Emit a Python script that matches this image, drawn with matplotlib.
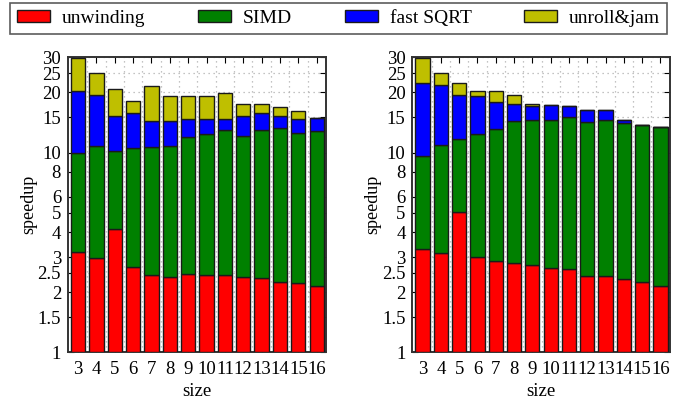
import numpy as np
import matplotlib.pyplot as plt
from matplotlib.ticker import FixedLocator, NullFormatter

plt.rcParams['font.family'] = ['Liberation Serif', 'DejaVu Serif']

sizes = list(range(3, 17))
stages = ["unwinding", "SIMD", "fast SQRT", "unroll&jam"]
colors = ["#ff0000", "#008000", "#0000ff", "#bfbf00"]

# cumulative speedup after each optimisation (top of each stacked segment)
left_unwinding = [3.18, 2.96, 4.15, 2.66, 2.44, 2.38, 2.47, 2.44, 2.44, 2.38, 2.36, 2.26, 2.22, 2.16]
left_simd = [10.0, 10.8, 10.2, 10.6, 10.7, 10.8, 12.0, 12.45, 13.0, 12.1, 13.0, 13.35, 12.6, 12.8]
left_sqrt = [20.4, 19.4, 15.2, 15.8, 14.4, 14.4, 14.8, 14.8, 14.8, 15.2, 15.8, 15.3, 14.8, 14.9]
left_unroll = [29.8, 24.9, 20.9, 18.2, 21.6, 19.1, 19.1, 19.2, 19.8, 17.6, 17.5, 17.0, 16.2, 14.9]

right_unwinding = [3.28, 3.13, 5.06, 2.99, 2.87, 2.79, 2.73, 2.64, 2.60, 2.40, 2.40, 2.33, 2.24, 2.15]
right_simd = [9.62, 10.9, 11.7, 12.4, 13.2, 14.35, 14.6, 14.5, 15.0, 14.2, 14.6, 14.0, 13.7, 13.4]
right_sqrt = [22.4, 21.7, 19.4, 19.2, 17.9, 17.5, 17.1, 17.3, 17.1, 16.3, 16.3, 14.5, 13.7, 13.4]
right_unroll = [29.8, 24.9, 22.3, 20.4, 20.4, 19.4, 17.5, 17.3, 17.1, 16.3, 16.3, 14.5, 13.7, 13.4]

yticks = [1, 1.5, 2, 2.5, 3, 4, 5, 6, 8, 10, 15, 20, 25, 30]


def draw(ax, tops):
    bottom = np.ones(len(sizes))
    for top, col, lab in zip(tops, colors, stages):
        top = np.array(top)
        ax.bar(sizes, top - bottom, bottom=bottom, width=0.78, color=col,
               edgecolor="#1a1a1a", linewidth=1.0, label=lab, zorder=3)
        bottom = top
    ax.set_yscale("log")
    ax.set_ylim(1, 30)
    ax.set_xlim(2.45, 16.5)
    ax.yaxis.set_major_locator(FixedLocator(yticks))
    ax.set_yticklabels([("%g" % t) for t in yticks])
    ax.yaxis.set_minor_formatter(NullFormatter())
    ax.yaxis.set_minor_locator(FixedLocator([]))
    ax.set_xticks(sizes)
    ax.set_xticklabels([str(s) for s in sizes])
    ax.set_xticks([s + 0.5 for s in sizes[:-1]], minor=True)
    ax.grid(True, axis="y", which="major", color="#b0b0b0", linestyle=(0, (1, 3)), linewidth=0.9, zorder=0)
    ax.grid(True, axis="x", which="minor", color="#b0b0b0", linestyle=(0, (1, 3)), linewidth=0.9, zorder=0)
    ax.tick_params(axis="both", which="major", direction="in", top=True, right=True,
                   length=4, labelsize=13.5)
    ax.tick_params(axis="y", which="major", pad=5)
    ax.tick_params(axis="x", which="major", pad=6)
    ax.tick_params(axis="x", which="minor", length=0)
    for sp in ax.spines.values():
        sp.set_linewidth(1.4)
        sp.set_color("#333333")
    ax.set_xlabel("size", fontsize=13.5, labelpad=4)
    ax.set_ylabel("speedup", fontsize=13, labelpad=0.5)


fig = plt.figure(figsize=(6.84, 4.03), dpi=100)
ax1 = fig.add_axes([0.0994, 0.1258, 0.377, 0.732])
ax2 = fig.add_axes([0.603, 0.1258, 0.376, 0.732])

draw(ax1, [left_unwinding, left_simd, left_sqrt, left_unroll])
draw(ax2, [right_unwinding, right_simd, right_sqrt, right_unroll])

handles, labels = ax1.get_legend_handles_labels()
leg = fig.legend(handles, labels, ncol=4, mode="expand",
                 bbox_to_anchor=(10 / 684, 1 - 33 / 403, 657 / 684, 29 / 403),
                 loc="center", fontsize=14, frameon=True, fancybox=False,
                 handlelength=1.7, handleheight=0.57, handletextpad=0.6,
                 borderpad=0.35, borderaxespad=0.0)
leg.get_frame().set_edgecolor("#333333")
leg.get_frame().set_linewidth(1.2)

fig.savefig("out.png", dpi=100)
